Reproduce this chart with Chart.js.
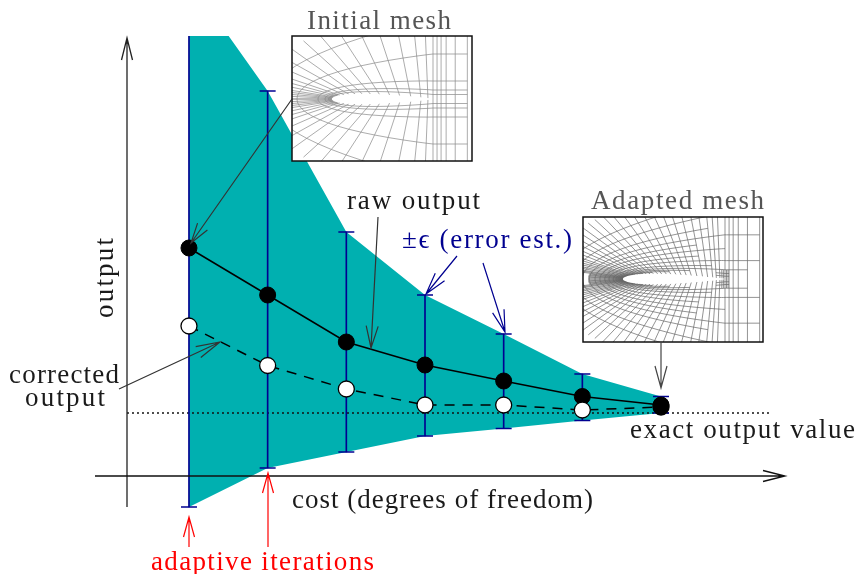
<!DOCTYPE html>
<html>
<head>
<meta charset="utf-8">
<style>
html, body { margin: 0; padding: 0; background: #fff; }
canvas { display: block; }
</style>
<script src="https://cdn.jsdelivr.net/npm/chart.js@4/dist/chart.umd.min.js"></script>
</head>
<body>
<canvas id="chart" width="857" height="574"></canvas>
<script>
// Values. y is output relative to the exact value.
const iterations = [0, 1, 2, 3, 4, 5, 6];
const rawOutput = [1.65, 1.18, 0.71, 0.48, 0.32, 0.165, 0.08];
const correctedOutput = [0.87, 0.475, 0.24, 0.08, 0.08, 0.03, 0.06];
const upperBound = [4.33, 3.22, 1.81, 1.18, 0.79, 0.39, 0.165];
const lowerBound = [-0.94, -0.55, -0.39, -0.23, -0.155, -0.075, 0];
const exactOutput = 0;
const exactRange = [-0.788, 7.385];

const TEAL = '#00b0b0';
const NAVY = '#000090';
const TEXT = '#1a1a1a';
const SERIF = '"Liberation Serif", serif';

const points = ys => iterations.map((x, i) => ({ x, y: ys[i] }));

// Straight line with an open two-stroke head at the tip
function arrow(ctx, x0, y0, x1, y1, color, width, headLen, headHalf) {
    const a = Math.atan2(y1 - y0, x1 - x0);
    const bx = x1 - headLen * Math.cos(a);
    const by = y1 - headLen * Math.sin(a);
    const nx = -Math.sin(a) * headHalf;
    const ny = Math.cos(a) * headHalf;
    ctx.save();
    ctx.strokeStyle = color;
    ctx.lineWidth = width;
    ctx.beginPath();
    ctx.moveTo(x0, y0);
    ctx.lineTo(x1, y1);
    ctx.moveTo(bx + nx, by + ny);
    ctx.lineTo(x1, y1);
    ctx.lineTo(bx - nx, by - ny);
    ctx.stroke();
    ctx.restore();
}

// Text stretched to span x0..x1 with letter spacing, like the wide TeX face
function label(ctx, text, x0, x1, base, color) {
    ctx.save();
    ctx.font = '27px ' + SERIF;
    ctx.fillStyle = color;
    ctx.textAlign = 'left';
    ctx.textBaseline = 'alphabetic';
    const w = ctx.measureText(text).width;
    ctx.letterSpacing = ((x1 - x0 - w) / (text.length - 1)) + 'px';
    ctx.fillText(text, x0, base);
    ctx.restore();
}

function thickness(u) {
    if (u <= 0 || u >= 1) return 0;
    return 0.5 * (0.2969 * Math.sqrt(u) - 0.126 * u - 0.3516 * u * u + 0.2843 * u * u * u - 0.1015 * u * u * u * u);
}

// Sketch of a C-grid round an airfoil
function drawMesh(ctx, m) {
    const pt = (u, side, t) => {
        const sx = m.le + m.chord * u;
        const sy = m.cy - side * m.chord * thickness(u);
        const ox = u <= 1 ? m.le - m.reach + (m.reach + m.chord) * u : sx;
        const oy = m.cy - side * m.height * Math.sqrt(Math.min(u, 1));
        return [sx + t * (ox - sx), sy + t * (oy - sy)];
    };
    ctx.save();
    ctx.fillStyle = '#fff';
    ctx.fillRect(m.x, m.y, m.w, m.h);
    ctx.beginPath();
    ctx.rect(m.x, m.y, m.w, m.h);
    ctx.clip();
    ctx.strokeStyle = m.color;
    ctx.lineWidth = 0.7;
    ctx.beginPath();
    [1, -1].forEach(side => {
        m.us.forEach(u => {
            const tEnd = m.radialStop ? m.radialStop(u) : 1.2;
            const a = pt(u, side, 0);
            const b = pt(u, side, tEnd);
            ctx.moveTo(a[0], a[1]);
            ctx.lineTo(b[0], b[1]);
        });
        m.levels.forEach(level => {
            let first = true;
            m.us.forEach(u => {
                if (u < level[1] || u > level[2]) return;
                const p = pt(u, side, level[0]);
                if (first) ctx.moveTo(p[0], p[1]);
                else ctx.lineTo(p[0], p[1]);
                first = false;
            });
        });
    });
    ctx.stroke();
    ctx.fillStyle = '#fff';
    ctx.beginPath();
    m.us.filter(u => u <= 1).forEach(u => {
        const p = pt(u, 1, 0);
        ctx.lineTo(p[0], p[1]);
    });
    m.us.filter(u => u <= 1).reverse().forEach(u => {
        const p = pt(u, -1, 0);
        ctx.lineTo(p[0], p[1]);
    });
    ctx.fill();
    ctx.restore();
    ctx.strokeStyle = '#111';
    ctx.lineWidth = 1.5;
    ctx.strokeRect(m.x, m.y, m.w, m.h);
}

const initialUs = [0, 0.002, 0.006, 0.012, 0.02, 0.035, 0.055, 0.08, 0.12, 0.17, 0.23, 0.3, 0.38, 0.47,
    0.57, 0.67, 0.78, 0.88, 0.95, 1, 1.04, 1.08, 1.13, 1.22, 1.34];
const initialMesh = {
    x: 292, y: 36, w: 180, h: 125, le: 332, cy: 99, chord: 101, reach: 70, height: 90, color: '#888',
    us: initialUs,
    levels: [[0.03, 0, 0.1], [0.05, 0, 2], [0.1, 0, 2], [0.2, 0, 2], [0.5, 0, 2], [0.9, 0, 2]]
};

// the adapted mesh splits the initial cells on the forward part of the foil
const teCluster = [0.97, 0.985, 1.015, 1.03];
const adaptedUs = [];
initialUs.forEach((u, i) => {
    const next = initialUs[i + 1];
    adaptedUs.push(u);
    if (next !== undefined && u < 0.9) {
        adaptedUs.push(u + (next - u) / 2);
    }
});
adaptedUs.push(...teCluster);
adaptedUs.sort((a, b) => a - b);
const adaptedMesh = {
    x: 583, y: 217, w: 180, h: 125, le: 623, cy: 279, chord: 102, reach: 70, height: 92, color: '#666',
    us: adaptedUs,
    radialStop: u => (teCluster.includes(u) ? 0.1 : u < 0.012 ? 0.5 : 1.2),
    levels: [[0.006, 0, 0.1], [0.012, 0, 0.1], [0.02, 0, 0.2], [0.03, 0.9, 1.05], [0.03, 0, 0.3], [0.045, 0, 0.5], [0.06, 0.9, 1.05],
        [0.07, 0, 0.7], [0.1, 0, 1.3], [0.14, 0, 0.9], [0.2, 0, 1.5], [0.26, 0, 0.8], [0.33, 0, 1], [0.4, 0, 0.8],
        [0.48, 0, 1.5], [0.58, 0, 0.9], [0.72, 0, 1.5], [0.88, 0, 1]]
};

const diagramPlugin = {
    id: 'diagram',
    afterDatasetsDraw(chart) {
        const ctx = chart.ctx;
        // axes
        arrow(ctx, 127, 507, 127, 38, '#222', 1.3, 22, 5.5);
        arrow(ctx, 95, 476, 785, 476, '#111', 1.3, 22, 5.5);

        drawMesh(ctx, initialMesh);
        drawMesh(ctx, adaptedMesh);

        // call-outs
        arrow(ctx, 292, 99, 191, 243, '#333', 1.2, 20, 6);
        arrow(ctx, 119, 389, 220, 342, '#333', 1.2, 24, 6);
        arrow(ctx, 378, 217, 371, 348, '#333', 1.2, 22, 6);
        arrow(ctx, 457, 256, 426, 294, NAVY, 1.2, 22, 6);
        arrow(ctx, 483, 263, 505, 332, NAVY, 1.2, 22, 6);
        arrow(ctx, 661, 342, 661, 388, '#444', 1.2, 22, 6);
        arrow(ctx, 189, 547, 189, 517, '#f00', 1.2, 20, 5.5);
        arrow(ctx, 268, 547, 268, 473, '#f00', 1.2, 20, 5.5);

        label(ctx, 'Initial mesh', 307, 451, 29, '#555');
        label(ctx, 'Adapted mesh', 591, 764, 209, '#555');
        label(ctx, 'raw output', 347, 480, 209, TEXT);
        label(ctx, '\u00b1\u03f5 (error est.)', 402, 572, 248, NAVY);
        label(ctx, 'corrected', 9, 119, 383, TEXT);
        label(ctx, 'output', 25, 105, 406, TEXT);
        label(ctx, 'exact output value', 630, 855, 438, TEXT);
        label(ctx, 'cost (degrees of freedom)', 292, 593, 508, TEXT);
        label(ctx, 'adaptive iterations', 151, 374, 570, '#f00');

        ctx.save();
        ctx.translate(113, 318);
        ctx.rotate(-Math.PI / 2);
        label(ctx, 'output', 0, 80, 0, TEXT);
        ctx.restore();
    }
};

new Chart(document.getElementById('chart').getContext('2d'), {
    type: 'line',
    plugins: [diagramPlugin],
    data: {
        datasets: [
            {
                label: 'upper', data: points(upperBound), fill: '+1', backgroundColor: TEAL,
                borderWidth: 0, pointRadius: 0, tension: 0, order: 9
            },
            {
                label: 'lower', data: points(lowerBound), fill: false,
                borderWidth: 0, pointRadius: 0, tension: 0, order: 10
            },
            {
                label: 'exact', data: exactRange.map(x => ({ x, y: exactOutput })),
                borderColor: '#111', borderWidth: 1.5, borderDash: [2, 3], pointRadius: 0, order: 8
            },
            {
                type: 'bar', label: 'error bars',
                data: iterations.map((x, i) => ({ x, y: [lowerBound[i], upperBound[i]] })),
                backgroundColor: NAVY, barThickness: 1, order: 7
            },
            {
                label: 'upper caps', data: points(upperBound), showLine: false, pointStyle: 'line',
                pointRadius: 8, pointBorderColor: NAVY, pointBorderWidth: 1.5, order: 6
            },
            {
                label: 'lower caps', data: points(lowerBound), showLine: false, pointStyle: 'line',
                pointRadius: 8, pointBorderColor: NAVY, pointBorderWidth: 1.5, order: 6
            },
            {
                label: 'raw output', data: points(rawOutput), borderColor: '#000', borderWidth: 1.5, tension: 0,
                pointRadius: 8, pointBackgroundColor: '#000', pointBorderColor: '#000', pointBorderWidth: 1, order: 2
            },
            {
                label: 'corrected output', data: points(correctedOutput), borderColor: '#000', borderWidth: 1.5,
                borderDash: [10, 8], tension: 0, pointRadius: 8,
                pointBackgroundColor: c => (c.dataIndex === iterations.length - 1 ? '#000' : '#fff'),
                pointBorderColor: '#000', pointBorderWidth: 1.3, order: 1
            }
        ]
    },
    options: {
        responsive: false,
        animation: false,
        layout: { autoPadding: false, padding: { top: 36 } },
        plugins: { legend: { display: false }, tooltip: { enabled: false } },
        scales: {
            x: { type: 'linear', display: false, offset: false, min: -2.402, max: 8.491 },
            y: { type: 'linear', display: false, min: -1.61, max: 3.77 }
        }
    }
});
</script>
</body>
</html>
